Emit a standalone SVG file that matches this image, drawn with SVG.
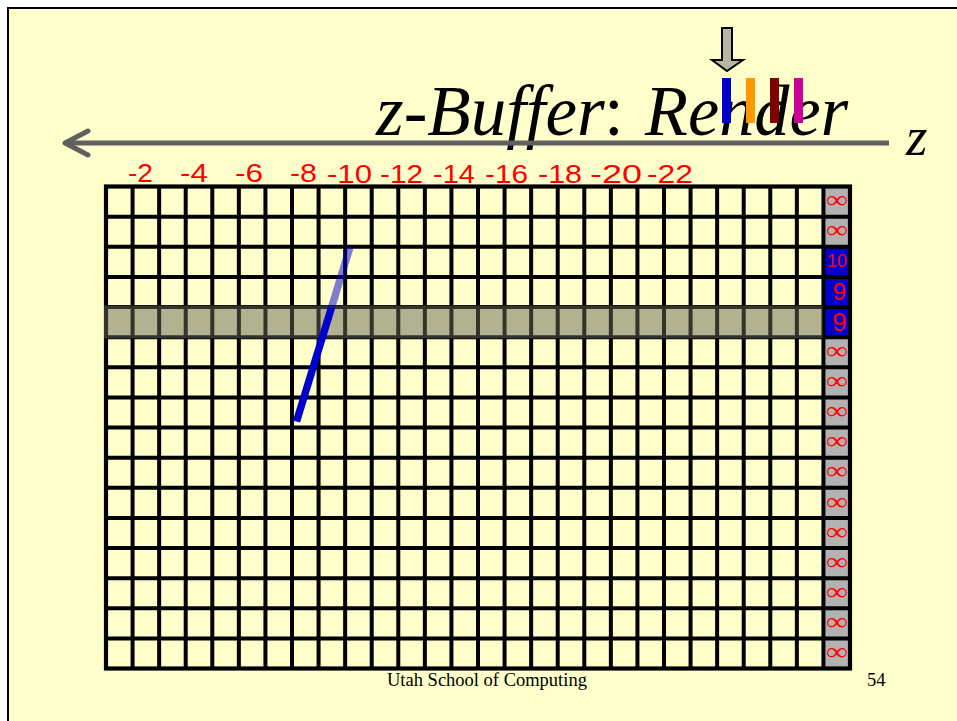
<svg xmlns="http://www.w3.org/2000/svg" width="957" height="721" viewBox="0 0 957 721">
<style>
.lbl{font-family:"Liberation Sans",Arial,sans-serif;fill:#ff0000;font-size:26px}
.inf{font-family:"Liberation Serif","DejaVu Serif",serif;font-size:25px;fill:#ff0000;text-anchor:middle}
.dig{font-family:"Liberation Sans",Arial,sans-serif;fill:#ff0000;text-anchor:middle}
.ser{font-family:"Liberation Serif","Times New Roman",serif}
.gl{stroke:#000;stroke-width:4;fill:none}
.zc{fill:#b2b2b2}
.zb{fill:#0000cc}
</style>
<rect width="957" height="721" fill="#ffffff"/>
<rect x="8" y="8" width="1000" height="800" fill="#ffffcc" stroke="#000" stroke-width="2"/>

<g id="title" class="ser" font-size="71" fill="#000">
<text x="376" y="135" font-style="italic">z-Buffer</text>
<text x="604" y="135">:</text>
<text x="645" y="135" font-style="italic" textLength="203" lengthAdjust="spacingAndGlyphs">Render</text>
</g>

<g id="down-arrow">
<polygon points="722,28 732,28 732,60 743,60 727,71 712,60 722,60" fill="#b8b8a0" stroke="#000" stroke-width="2"/>
</g>

<g id="fragments">
<rect x="722" y="78" width="9" height="45" fill="#0000cc"/>
<rect x="746" y="78" width="9" height="45" fill="#ff9900"/>
<rect x="770" y="78" width="9" height="45" fill="#800000"/>
<rect x="794" y="78" width="9" height="45" fill="#cc0099"/>
</g>

<g id="z-axis">
<line x1="68" y1="143" x2="889" y2="143" stroke="#606060" stroke-width="5"/>
<polyline points="88,131 65,143 88,155" fill="none" stroke="#606060" stroke-width="5" stroke-linecap="round" stroke-linejoin="round"/>
<text x="906" y="155" class="ser" font-size="55" font-style="italic" fill="#000">z</text>
</g>

<g id="z-labels" class="lbl">
<text x="128" y="182" textLength="25" lengthAdjust="spacingAndGlyphs">-2</text>
<text x="180" y="182" textLength="28" lengthAdjust="spacingAndGlyphs">-4</text>
<text x="235" y="182" textLength="28" lengthAdjust="spacingAndGlyphs">-6</text>
<text x="290" y="182" textLength="27" lengthAdjust="spacingAndGlyphs">-8</text>
<text x="327" y="183" textLength="45" lengthAdjust="spacingAndGlyphs">-10</text>
<text x="380" y="183" textLength="43" lengthAdjust="spacingAndGlyphs">-12</text>
<text x="433" y="183" textLength="42" lengthAdjust="spacingAndGlyphs">-14</text>
<text x="485" y="183" textLength="43" lengthAdjust="spacingAndGlyphs">-16</text>
<text x="538" y="183" textLength="44" lengthAdjust="spacingAndGlyphs">-18</text>
<text x="590" y="183" textLength="52" lengthAdjust="spacingAndGlyphs">-20</text>
<text x="647" y="183" textLength="46" lengthAdjust="spacingAndGlyphs">-22</text>
</g>

<g id="zbuffer-column">
<rect class="zc" x="823.4" y="186.5" width="26.6" height="60.25"/>
<rect class="zb" x="823.4" y="246.75" width="26.6" height="90.38"/>
<rect class="zc" x="823.4" y="337.13" width="26.6" height="331.37"/>
</g>

<g id="grid">
<path class="gl" d="M132.57,186.5V668.5M159.14,186.5V668.5M185.71,186.5V668.5M212.29,186.5V668.5M238.86,186.5V668.5M265.43,186.5V668.5M292,186.5V668.5M318.57,186.5V668.5M345.14,186.5V668.5M371.71,186.5V668.5M398.29,186.5V668.5M424.86,186.5V668.5M451.43,186.5V668.5M478,186.5V668.5M504.57,186.5V668.5M531.14,186.5V668.5M557.71,186.5V668.5M584.29,186.5V668.5M610.86,186.5V668.5M637.43,186.5V668.5M664,186.5V668.5M690.57,186.5V668.5M717.14,186.5V668.5M743.71,186.5V668.5M770.29,186.5V668.5M796.86,186.5V668.5M823.43,186.5V668.5"/>
<path class="gl" d="M106,216.63H850M106,246.75H850M106,276.88H850M106,307H850M106,337.13H850M106,367.25H850M106,397.38H850M106,427.5H850M106,457.63H850M106,487.75H850M106,517.88H850M106,548H850M106,578.13H850M106,608.25H850M106,638.38H850"/>
<rect x="106" y="186.5" width="744" height="482" fill="none" stroke="#000" stroke-width="4.2"/>
</g>

<g id="scanline">
<rect x="104" y="305.5" width="718.5" height="33" fill="#666655" fill-opacity="0.5"/>
</g>

<g id="polygon-edge">
<line x1="350" y1="247" x2="331.5" y2="307.5" stroke="#0000cc" stroke-width="7.5" stroke-opacity="0.5"/>
<line x1="331.5" y1="307.5" x2="296.5" y2="421.5" stroke="#0000cc" stroke-width="7.5"/>
</g>

<g id="zbuffer-values">
<text class="inf" x="837" y="208.3" textLength="22" lengthAdjust="spacingAndGlyphs">∞</text>
<text class="inf" x="837" y="238.4" textLength="22" lengthAdjust="spacingAndGlyphs">∞</text>
<text class="dig" x="837" y="267" font-size="18">10</text>
<text class="dig" x="839.5" y="300" font-size="24">9</text>
<text class="dig" x="839.5" y="331" font-size="26">9</text>
<text class="inf" x="837" y="359" textLength="22" lengthAdjust="spacingAndGlyphs">∞</text>
<text class="inf" x="837" y="389.1" textLength="22" lengthAdjust="spacingAndGlyphs">∞</text>
<text class="inf" x="837" y="419.2" textLength="22" lengthAdjust="spacingAndGlyphs">∞</text>
<text class="inf" x="837" y="449.3" textLength="22" lengthAdjust="spacingAndGlyphs">∞</text>
<text class="inf" x="837" y="479.4" textLength="22" lengthAdjust="spacingAndGlyphs">∞</text>
<text class="inf" x="837" y="509.6" textLength="22" lengthAdjust="spacingAndGlyphs">∞</text>
<text class="inf" x="837" y="539.7" textLength="22" lengthAdjust="spacingAndGlyphs">∞</text>
<text class="inf" x="837" y="569.8" textLength="22" lengthAdjust="spacingAndGlyphs">∞</text>
<text class="inf" x="837" y="599.9" textLength="22" lengthAdjust="spacingAndGlyphs">∞</text>
<text class="inf" x="837" y="630.1" textLength="22" lengthAdjust="spacingAndGlyphs">∞</text>
<text class="inf" x="837" y="660.2" textLength="22" lengthAdjust="spacingAndGlyphs">∞</text>
</g>

<g id="footer" class="ser" font-size="18.5" fill="#000">
<text x="387" y="686">Utah School of Computing</text>
<text x="867" y="686">54</text>
</g>
</svg>
